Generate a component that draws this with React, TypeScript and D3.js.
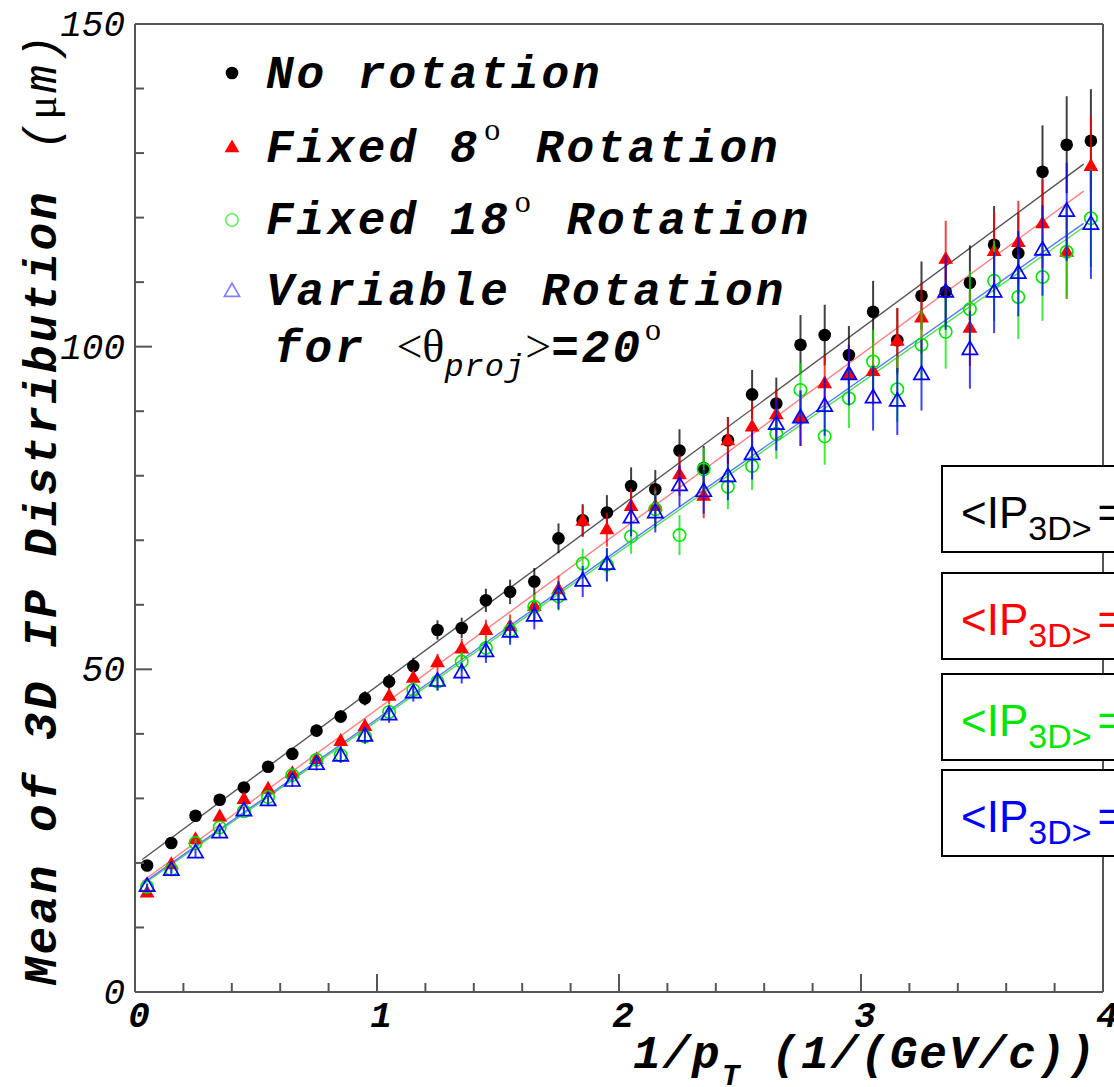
import React from 'react';
import * as d3 from 'd3';

// ---------------- data ----------------
const xBins = [0.05, 0.15, 0.25, 0.35, 0.45, 0.55, 0.65, 0.75, 0.85, 0.95,
  1.05, 1.15, 1.25, 1.35, 1.45, 1.55, 1.65, 1.75, 1.85, 1.95,
  2.05, 2.15, 2.25, 2.35, 2.45, 2.55, 2.65, 2.75, 2.85, 2.95,
  3.05, 3.15, 3.25, 3.35, 3.45, 3.55, 3.65, 3.75, 3.85, 3.95];

const noRotation = [19.6, 23.1, 27.3, 29.8, 31.7, 34.9, 36.9, 40.5, 42.7, 45.5,
  48.1, 50.5, 56.1, 56.4, 60.7, 62.0, 63.6, 70.3, 73.1, 74.3,
  78.4, 77.9, 83.9, 81.2, 85.5, 92.6, 91.2, 100.3, 101.8, 98.7,
  105.4, 101.0, 107.9, 108.5, 109.9, 115.8, 114.5, 127.1, 131.3, 131.9];
const fixed8 = [15.3, 19.7, 23.6, 27.1, 29.8, 31.4, 33.8, 36.0, 38.8, 41.1,
  45.8, 48.6, 51.0, 53.1, 56.0, 56.6, 59.7, 62.3, 72.9, 71.6,
  75.2, 75.2, 80.1, 76.8, 85.4, 87.5, 89.4, 88.9, 94.2, 95.6,
  96.1, 100.8, 104.4, 113.5, 102.8, 114.7, 116.1, 119.0, 114.6, 127.9];
const fixed18 = [16.3, 19.0, 23.1, 25.5, 28.0, 30.2, 33.6, 36.0, 36.7, 39.6,
  43.4, 46.8, 48.1, 51.2, 53.3, 56.0, 59.7, 61.3, 66.4, 66.2,
  70.6, 74.8, 70.8, 81.0, 78.3, 81.5, 86.5, 93.3, 86.1, 92.0,
  97.7, 93.4, 100.3, 102.3, 105.8, 110.2, 107.7, 110.8, 114.7, 119.9];
const variableRot = [16.3, 18.8, 21.5, 24.6, 28.0, 29.6, 32.6, 35.2, 36.5, 39.6,
  42.9, 46.3, 48.1, 49.4, 52.7, 55.7, 58.2, 61.5, 63.6, 66.2,
  73.4, 74.2, 78.4, 77.5, 79.8, 83.2, 87.9, 88.9, 90.7, 95.6,
  92.0, 91.5, 95.6, 108.4, 99.5, 108.4, 111.3, 114.9, 120.9, 118.9];

const errNoRotation = [0.5, 0.6, 0.6, 0.7, 0.7, 0.8, 0.8, 0.9, 1.0, 1.1,
  1.2, 1.3, 1.5, 1.6, 1.8, 1.9, 2.1, 2.3, 2.5, 2.7,
  2.9, 3.0, 3.3, 3.4, 3.6, 3.8, 4.0, 4.6, 4.7, 4.5,
  4.8, 5.0, 5.3, 5.5, 5.8, 6.0, 6.3, 7.2, 7.5, 8.0];
const errFixed8 = [0.5, 0.6, 0.6, 0.7, 0.7, 0.8, 0.8, 0.9, 1.0, 1.1,
  1.2, 1.3, 1.4, 1.6, 1.7, 1.9, 2.0, 2.2, 2.4, 2.6,
  2.8, 3.0, 3.2, 3.4, 3.6, 3.8, 4.0, 4.3, 4.5, 4.7,
  5.0, 5.2, 5.5, 6.0, 5.8, 6.2, 6.5, 6.8, 7.2, 7.8];
const errFixed18 = [0.5, 0.6, 0.6, 0.7, 0.7, 0.8, 0.8, 0.9, 1.0, 1.1,
  1.2, 1.3, 1.4, 1.5, 1.7, 1.8, 2.0, 2.2, 2.3, 2.5,
  2.7, 2.9, 3.1, 3.3, 3.5, 3.7, 3.9, 4.2, 4.4, 4.6,
  4.9, 5.1, 5.4, 5.7, 5.9, 6.2, 6.5, 6.8, 7.2, 7.6];
const errVariableRot = [0.5, 0.6, 0.6, 0.7, 0.7, 0.8, 0.8, 0.9, 1.0, 1.1,
  1.2, 1.3, 1.4, 1.6, 1.7, 1.9, 2.0, 2.2, 2.4, 2.6,
  2.8, 3.0, 3.2, 3.4, 3.6, 3.8, 4.0, 4.3, 4.5, 4.7,
  5.0, 5.2, 5.5, 5.8, 6.0, 6.3, 6.6, 7.0, 7.6, 8.4];

const fitIntercepts = [19.7, 16.3, 15.8, 16.0];
const fitSlopes = [27.7, 27.5, 26.2, 26.3];
const fitRange = [0.03, 3.92];

const xMajorTicks = [0, 1, 2, 3, 4];
const xMinorTicks = [0.2, 0.4, 0.6, 0.8, 1.2, 1.4, 1.6, 1.8, 2.2, 2.4, 2.6, 2.8, 3.2, 3.4, 3.6, 3.8];
const yMajorTicks = [0, 50, 100, 150];
const yMinorTicks = [10, 20, 30, 40, 60, 70, 80, 90, 110, 120, 130, 140];

const seriesColors = ['#000000', '#ff0000', '#00e600', '#0000ff'];
const legendColors = ['#000000', '#ff0000', '#66ee66', '#8080ff'];
const fitColors = ['#555555', '#ff8080', '#55dd55', '#5577ff'];
const markerKinds = ['dot', 'tri', 'ocircle', 'otri'];

// ---------------- layout ----------------
const W = 1114;
const H = 1087;
const PL = 135, PR = 1103, PT = 24, PB = 992;

const MONO = '"Liberation Mono", "DejaVu Sans Mono", monospace';
const SERIF = '"Liberation Serif", "DejaVu Serif", serif';
const SANS = '"Liberation Sans", Arial, sans-serif';

function Marker({ kind, cx, cy, color, scale = 1 }: { kind: string; cx: number; cy: number; color: string; scale?: number }) {
  if (kind === 'dot') return <circle cx={cx} cy={cy} r={6.3 * scale} fill={color} />;
  if (kind === 'ocircle') return <circle cx={cx} cy={cy} r={6.2 * scale} fill="none" stroke={color} strokeWidth={1.6} />;
  const size = (kind === 'tri' ? 95 : 100) * scale * scale;
  const p = d3.symbol().type(d3.symbolTriangle).size(size)() as string;
  if (kind === 'tri') return <path d={p} transform={`translate(${cx},${cy})`} fill={color} />;
  return <path d={p} transform={`translate(${cx},${cy})`} fill="none" stroke={color} strokeWidth={1.7} />;
}

export default function App() {
  const x = d3.scaleLinear().domain([0, 4]).range([PL, PR]);
  const y = d3.scaleLinear().domain([0, 150]).range([PB, PT]);

  const series = [noRotation, fixed8, fixed18, variableRot];
  const errors = [errNoRotation, errFixed8, errFixed18, errVariableRot];

  const axisColor = '#555';

  return (
    <svg width={W} height={H} style={{ position: 'absolute', left: 0, top: 0, background: '#fff' }}>
      <rect x={0} y={0} width={W} height={H} fill="#fff" />

      {/* fit lines */}
      {fitIntercepts.map((a, si) => {
        const pts = fitRange.map((xv) => [x(xv), y(a + fitSlopes[si] * xv)] as [number, number]);
        const l = d3.line<[number, number]>().x((d) => d[0]).y((d) => d[1]);
        return <path key={`fit${si}`} d={l(pts) as string} stroke={fitColors[si]} strokeWidth={1.4} fill="none" />;
      })}

      {/* error bars and markers */}
      {series.map((vals, si) => (
        <g key={`s${si}`}>
          {vals.map((v, i) => (
            <line key={`e${i}`} x1={x(xBins[i])} x2={x(xBins[i])} y1={y(v - errors[si][i])} y2={y(v + errors[si][i])}
              stroke={seriesColors[si]} strokeWidth={2} strokeOpacity={0.75} />
          ))}
          {vals.map((v, i) => (
            <Marker key={`m${i}`} kind={markerKinds[si]} cx={x(xBins[i])} cy={y(v)} color={seriesColors[si]} />
          ))}
        </g>
      ))}

      {/* frame */}
      <line x1={PL} x2={PR} y1={PT} y2={PT} stroke={axisColor} strokeWidth={2} />
      <line x1={PR} x2={PR} y1={PT} y2={PB} stroke={axisColor} strokeWidth={2} />
      <line x1={PL} x2={PR} y1={PB} y2={PB} stroke={axisColor} strokeWidth={2} />
      <line x1={PL} x2={PL} y1={PT} y2={PB} stroke={axisColor} strokeWidth={2} />

      {/* x ticks */}
      {xMajorTicks.map((t) => (
        <line key={`xM${t}`} x1={x(t)} x2={x(t)} y1={PB} y2={PB - 18} stroke={axisColor} strokeWidth={2} />
      ))}
      {xMinorTicks.map((t) => (
        <line key={`xm${t}`} x1={x(t)} x2={x(t)} y1={PB} y2={PB - 9} stroke={axisColor} strokeWidth={2} />
      ))}
      {yMajorTicks.map((t) => (
        <line key={`yM${t}`} x1={PL} x2={PL + 17} y1={y(t)} y2={y(t)} stroke={axisColor} strokeWidth={2} />
      ))}
      {yMinorTicks.map((t) => (
        <line key={`ym${t}`} x1={PL} x2={PL + 9} y1={y(t)} y2={y(t)} stroke={axisColor} strokeWidth={2} />
      ))}

      {/* tick labels */}
      {xMajorTicks.map((t) => (
        <text key={`xl${t}`} x={x(t) + 4} y={1027} textAnchor="middle" fontFamily={MONO} fontStyle="italic" fontWeight="bold" fontSize={36}>{t}</text>
      ))}
      {yMajorTicks.map((t) => (
        <text key={`yl${t}`} x={125} y={y(t) + 12} textAnchor="end" fontFamily={MONO} fontStyle="italic" fontSize={36}>{t}</text>
      ))}

      {/* axis titles */}
      <text x={1097} y={1068} textAnchor="end" fontFamily={MONO} fontStyle="italic" fontWeight="bold" fontSize={46} letterSpacing={2}>
        1/p<tspan fontSize={30} dy={17}>T</tspan><tspan dy={-17}>{'  (1/(GeV/c))'}</tspan>
      </text>
      <text transform="translate(56,985) rotate(-90)" fontFamily={MONO} fontStyle="italic" fontWeight="bold" fontSize={46} letterSpacing={3}>
        Mean of 3D IP Distribution<tspan x={835} fontWeight="normal">(</tspan><tspan fontFamily={SERIF} fontStyle="normal" fontWeight="normal" fontSize={44}>μ</tspan><tspan fontWeight="normal">m)</tspan>
      </text>

      {/* legend */}
      {[73, 148, 220, 292].map((cy, i) => (
        <Marker key={`lg${i}`} kind={markerKinds[i]} cx={232} cy={cy} color={legendColors[i]} scale={1} />
      ))}
      <g fontFamily={MONO} fontStyle="italic" fontWeight="bold" fontSize={46} letterSpacing={3}>
        <text x={266} y={88}>No rotation</text>
        <text x={266} y={162}>Fixed 8<tspan fontFamily={SERIF} fontStyle="normal" fontWeight="normal" fontSize={32} dx={4} dy={-22}>o</tspan><tspan dy={22} dx={2}> Rotation</tspan></text>
        <text x={266} y={234}>Fixed 18<tspan fontFamily={SERIF} fontStyle="normal" fontWeight="normal" fontSize={32} dx={4} dy={-22}>o</tspan><tspan dy={22} dx={2}> Rotation</tspan></text>
        <text x={266} y={305}>Variable Rotation</text>
        <text x={274} y={362}>for <tspan fontFamily={SERIF} fontStyle="normal" fontWeight="normal" fontSize={46} letterSpacing={0}>&lt;θ</tspan><tspan fontSize={32} fontWeight="normal" letterSpacing={1} dy={14}>proj</tspan><tspan dy={-14} fontFamily={SERIF} fontStyle="normal" fontWeight="normal" fontSize={46} letterSpacing={0}>&gt;</tspan>=20<tspan fontFamily={SERIF} fontStyle="normal" fontWeight="normal" fontSize={32} dx={2} dy={-22}>o</tspan></text>
      </g>

      {/* right-side fit result boxes */}
      {[466, 573, 674, 770].map((top, i) => (
        <g key={`box${i}`}>
          <rect x={942} y={top} width={260} height={86} fill="#fff" stroke="#000" strokeWidth={2} />
          <text x={961} y={top + 62} fontFamily={SANS} fontSize={44} fill={seriesColors[i]}>
            &lt;IP<tspan fontSize={34} dy={12}>3D&gt;</tspan><tspan dy={-12} dx={6}>=</tspan>
          </text>
        </g>
      ))}
    </svg>
  );
}
